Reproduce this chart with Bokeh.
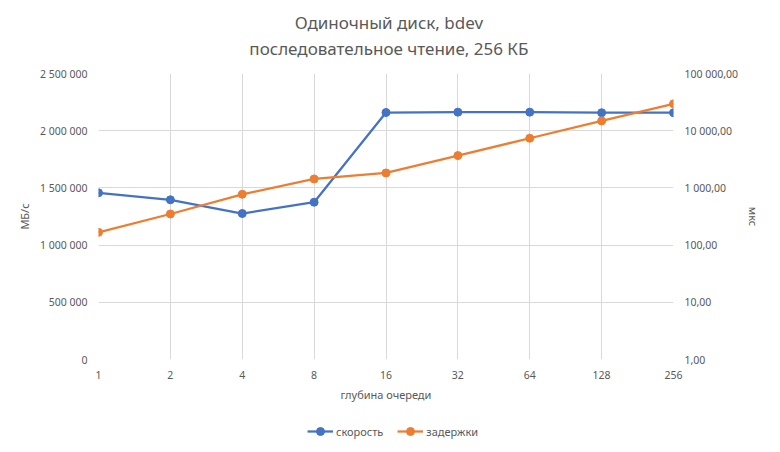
from bokeh.plotting import figure
from bokeh.layouts import column
from bokeh.core.properties import value
from bokeh.models import Range1d, LogScale, LogAxis, FixedTicker, Legend, LegendItem
from bokeh.embed import file_html
from bokeh.resources import INLINE

# ---- data ----
depth = [1, 2, 4, 8, 16, 32, 64, 128, 256]
depth_labels = ["1", "2", "4", "8", "16", "32", "64", "128", "256"]
speed = [1457000, 1396000, 1276000, 1375000, 2159000, 2162000, 2162000, 2157000, 2157000]
latency = [167, 350, 773, 1433, 1825, 3670, 7380, 14850, 29450]

speed_ticks = [0, 500000, 1000000, 1500000, 2000000, 2500000]
speed_tick_labels = ["0", "500 000", "1 000 000", "1 500 000", "2 000 000", "2 500 000"]
lat_ticks = [1, 10, 100, 1000, 10000, 100000]
lat_tick_labels = ["1,00", "10,00", "100,00", "1 000,00", "10 000,00", "100 000,00"]

title_lines = ["Одиночный диск, bdev", "последовательное чтение, 256 КБ"]
x_title = "глубина очереди"
y_title = "МБ/с"
y2_title = "мкс"
speed_name = "скорость"
latency_name = "задержки"

FONT = "Noto Sans"
GREY = "#595959"
GRID = "#d9d9d9"
BLUE = "#4472C4"
ORANGE = "#ED7D31"


def strip(h):
    f = figure(width=764, height=h, output_backend="svg", toolbar_location=None,
               x_range=Range1d(0, 1), y_range=Range1d(0, h),
               min_border_left=0, min_border_right=0,
               min_border_top=0, min_border_bottom=0)
    f.axis.visible = False
    f.grid.visible = False
    f.outline_line_color = None
    f.title = None
    return f


# ---- title strip ----
pt = strip(65)
pt.text(x=[0.505, 0.505], y=[43, 17], text=title_lines, text_align="center",
        text_baseline="middle", text_font=value(FONT), text_font_size="17px",
        text_color=GREY)

# ---- main chart ----
p = figure(width=764, height=347, x_axis_type="log",
           x_range=Range1d(1, 256), y_range=Range1d(0, 2500000),
           output_backend="svg", toolbar_location=None,
           min_border_left=98, min_border_right=89,
           min_border_top=8, min_border_bottom=53)
p.outline_line_color = None
p.title = None

p.extra_y_ranges = {"lat": Range1d(1, 100000)}
p.extra_y_scales = {"lat": LogScale()}

xa = p.xaxis[0]
xa.ticker = FixedTicker(ticks=depth)
xa.major_label_overrides = {d: l for d, l in zip(depth, depth_labels)}
xa.axis_label = x_title

ya = p.yaxis[0]
ya.ticker = FixedTicker(ticks=speed_ticks)
ya.major_label_overrides = {t: l for t, l in zip(speed_ticks, speed_tick_labels)}
ya.axis_label = y_title

ra = LogAxis(y_range_name="lat", axis_label=y2_title)
ra.ticker = FixedTicker(ticks=lat_ticks)
ra.major_label_overrides = {t: l for t, l in zip(lat_ticks, lat_tick_labels)}
p.add_layout(ra, "right")

for ax in [xa, ya, ra]:
    ax.axis_line_color = None
    ax.major_tick_line_color = None
    ax.minor_tick_line_color = None
    ax.major_label_text_font = FONT
    ax.major_label_text_font_size = "10.5px"
    ax.major_label_text_color = GREY
    ax.axis_label_text_font = FONT
    ax.axis_label_text_font_size = "11px"
    ax.axis_label_text_font_style = "normal"
    ax.axis_label_text_color = GREY

p.xgrid.grid_line_color = GRID
p.ygrid.grid_line_color = GRID

p.line(depth, speed, line_color=BLUE, line_width=2.25)
p.scatter(depth, speed, size=8, fill_color=BLUE, line_color=BLUE)
p.line(depth, latency, line_color=ORANGE, line_width=2.25, y_range_name="lat")
p.scatter(depth, latency, size=8, fill_color=ORANGE, line_color=ORANGE, y_range_name="lat")

# ---- legend strip (series drawn off-range, only their legend glyphs show) ----
pl = strip(36)
ll1 = pl.line(depth, speed, line_color=BLUE, line_width=2.25)
ls1 = pl.scatter(depth, speed, size=8, fill_color=BLUE, line_color=BLUE)
ll2 = pl.line(depth, latency, line_color=ORANGE, line_width=2.25)
ls2 = pl.scatter(depth, latency, size=8, fill_color=ORANGE, line_color=ORANGE)

legend = Legend(items=[LegendItem(label=speed_name, renderers=[ll1, ls1]),
                       LegendItem(label=latency_name, renderers=[ll2, ls2])],
                orientation="horizontal", location=(209, 7),
                label_text_font=FONT, label_text_font_size="11px",
                label_text_color=GREY, border_line_color=None,
                background_fill_alpha=0, glyph_width=26, spacing=14,
                padding=0, margin=0, label_standoff=3)
pl.add_layout(legend, "center")

layout = column(pt, p, pl, spacing=0)
open("out.html", "w").write(file_html(layout, INLINE))
